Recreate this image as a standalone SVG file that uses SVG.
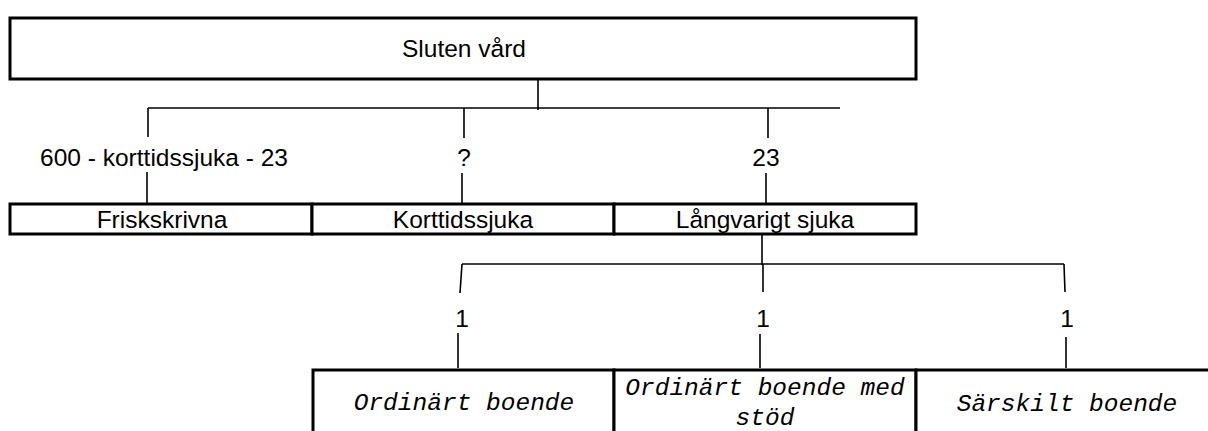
<svg xmlns="http://www.w3.org/2000/svg" width="1208" height="431" viewBox="0 0 1208 431">
<style>
.box{fill:#fff;stroke:#000;stroke-width:3}
.ln{fill:none;stroke:#000;stroke-width:1.6}
.t{font-family:"Liberation Sans",Arial,sans-serif;font-size:24.5px;fill:#000;text-anchor:middle}
.m{font-family:"Liberation Mono","Courier New",monospace;font-style:italic;font-size:24.5px;fill:#000;text-anchor:middle}
</style>
<rect width="1208" height="431" fill="#fff"/>
<g id="connectors">
<line class="ln" x1="538" y1="79" x2="538" y2="110"/>
<line class="ln" x1="148" y1="108" x2="840" y2="108"/>
<line class="ln" x1="148" y1="108" x2="148" y2="137"/>
<line class="ln" x1="147" y1="172" x2="147" y2="203"/>
<line class="ln" x1="464" y1="108" x2="464" y2="138"/>
<line class="ln" x1="462" y1="173" x2="462" y2="203"/>
<line class="ln" x1="768" y1="108" x2="768" y2="138"/>
<line class="ln" x1="766" y1="173" x2="766" y2="203"/>
<line class="ln" x1="762" y1="234" x2="762" y2="265"/>
<line class="ln" x1="462" y1="264" x2="1064" y2="264"/>
<line class="ln" x1="462" y1="264" x2="460" y2="293"/>
<line class="ln" x1="458" y1="333" x2="458" y2="368"/>
<line class="ln" x1="763" y1="264" x2="763" y2="292"/>
<line class="ln" x1="760" y1="334" x2="760" y2="368"/>
<line class="ln" x1="1064" y1="264" x2="1065" y2="292"/>
<line class="ln" x1="1066" y1="337" x2="1066" y2="368"/>
<text class="t" x="164" y="166">600 - korttidssjuka - 23</text>
<text class="t" x="464" y="166">?</text>
<text class="t" x="766" y="166">23</text>
<text class="t" x="462" y="327">1</text>
<text class="t" x="763" y="327">1</text>
<text class="t" x="1067" y="327">1</text>
</g>
<g id="sluten">
<rect class="box" x="10" y="18" width="906" height="61"/>
<text class="t" x="464" y="57">Sluten vård</text>
</g>
<g id="friskskrivna">
<rect class="box" x="10" y="204" width="302" height="30"/>
<text class="t" x="162" y="228">Friskskrivna</text>
</g>
<g id="korttidssjuka">
<rect class="box" x="312" y="204" width="302" height="30"/>
<text class="t" x="463" y="228">Korttidssjuka</text>
</g>
<g id="langvarigt">
<rect class="box" x="614" y="204" width="302" height="30"/>
<text class="t" x="765" y="228">Långvarigt sjuka</text>
</g>
<g id="ordinart">
<rect class="box" x="313" y="370" width="301" height="80"/>
<text class="m" x="464" y="410">Ordinärt boende</text>
</g>
<g id="ordinart-stod">
<rect class="box" x="614" y="370" width="302" height="80"/>
<text class="m" x="765" y="395">Ordinärt boende med</text>
<text class="m" x="765" y="425">stöd</text>
</g>
<g id="sarskilt">
<rect class="box" x="916" y="370" width="302" height="80"/>
<text class="m" x="1067" y="411">Särskilt boende</text>
</g>
</svg>
